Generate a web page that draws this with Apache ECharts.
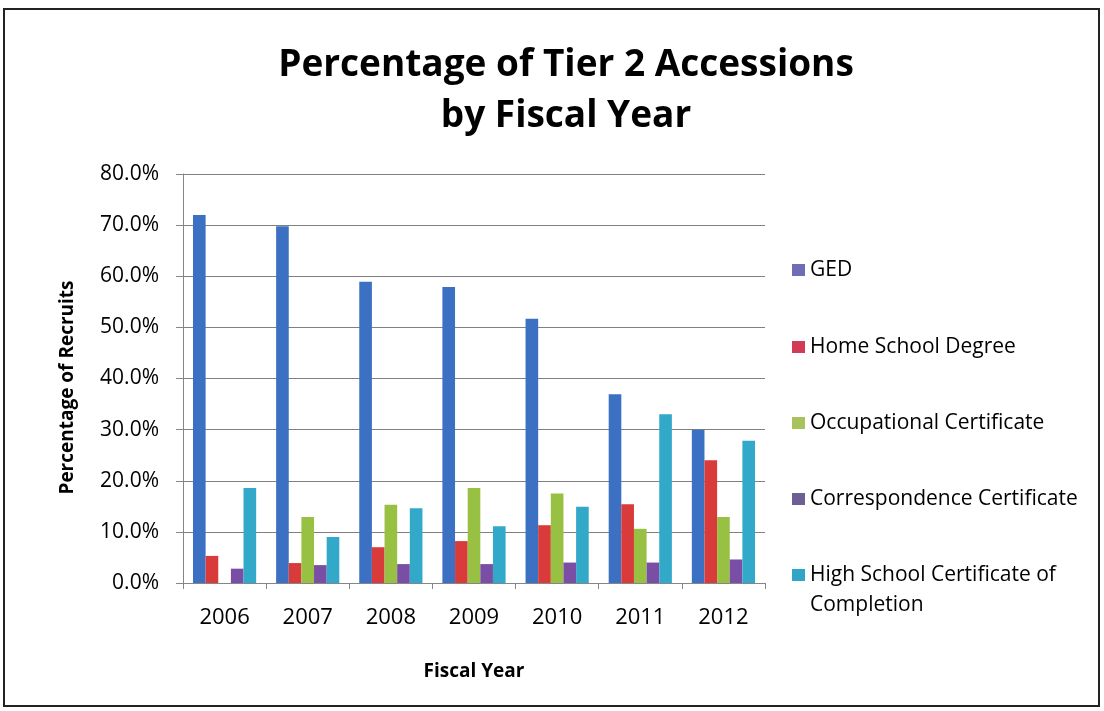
<!DOCTYPE html>
<html>
<head>
<meta charset="utf-8">
<script src="https://cdn.jsdelivr.net/npm/echarts@6/dist/echarts.min.js"></script>
<style>
  html, body { margin: 0; padding: 0; background: #ffffff; }
  #chart { width: 1104px; height: 711px; }
</style>
</head>
<body>
<div id="chart"></div>
<script>
// Fiscal years on the category axis
const years = ['2006', '2007', '2008', '2009', '2010', '2011', '2012'];

// Share of Tier 2 accessions (percent) by credential type
const gedValues            = [72.0, 69.8, 58.9, 57.9, 51.7, 36.9, 30.0];
const homeSchoolValues     = [5.3, 3.9, 7.0, 8.2, 11.3, 15.4, 24.0];
const occupationalValues   = [0.0, 12.9, 15.3, 18.6, 17.5, 10.6, 12.9];
const correspondenceValues = [2.8, 3.5, 3.7, 3.7, 4.0, 4.0, 4.6];
const hsCompletionValues   = [18.6, 9.0, 14.6, 11.1, 14.9, 33.0, 27.8];

// Series names as shown in the legend
const seriesNames = [
  'GED',
  'Home School Degree',
  'Occupational Certificate',
  'Correspondence Certificate',
  'High School Certificate of Completion'
];

// Y axis range and step (percent)
const yMin = 0;
const yMax = 80;
const yStep = 10;

const seriesValues = [gedValues, homeSchoolValues, occupationalValues, correspondenceValues, hsCompletionValues];
const barColors = ['#3b70c2', '#d93b3b', '#98c144', '#7a4ea5', '#33a9c9'];
const swatchColors = ['#6f6db5', '#d23a55', '#a8c25e', '#6d5f94', '#2fa6c6'];

const FONT = '"Open Sans", "DejaVu Sans", sans-serif';

// Legend entries: one block per series, stacked on the right.
// The long name wraps; an empty leading line keeps its first line level with the swatch.
const LEGEND_LH = 30;
const legendCenters = [270, 347, 423, 499, 575];

function legendFor(i) {
  const wrapped = i === 4;
  const halfBox = wrapped ? LEGEND_LH * 1.5 : LEGEND_LH / 2;
  return {
    orient: 'vertical',
    left: 792,
    top: legendCenters[i] - halfBox,
    padding: 0,
    itemWidth: 13,
    itemHeight: 12,
    icon: 'rect',
    selectedMode: false,
    textStyle: {
      fontFamily: FONT,
      fontSize: 21,
      color: '#000000',
      lineHeight: LEGEND_LH
    },
    formatter: function (name) {
      return name === seriesNames[4] ? '\nHigh School Certificate of\nCompletion' : name;
    },
    data: [{ name: seriesNames[i], itemStyle: { color: swatchColors[i] } }]
  };
}

const chart = echarts.init(document.getElementById('chart'), null, { renderer: 'canvas' });

chart.setOption({
  backgroundColor: '#ffffff',
  animation: false,
  color: barColors,
  title: {
    text: 'Percentage of Tier 2 Accessions\nby Fiscal Year',
    left: 561,
    top: 35,
    textAlign: 'center',
    textStyle: {
      fontFamily: FONT,
      fontWeight: 'bold',
      fontSize: 37,
      lineHeight: 51,
      color: '#000000'
    }
  },
  legend: seriesNames.map(function (n, i) { return legendFor(i); }),
  graphic: [{
    type: 'rect',
    shape: { x: 4, y: 9, width: 1095, height: 697 },
    style: { fill: 'none', stroke: '#222222', lineWidth: 2 },
    silent: true,
    z: 100
  }],
  grid: {
    left: 183,
    right: 339,
    top: 174,
    bottom: 128,
    containLabel: false
  },
  xAxis: {
    type: 'category',
    data: years,
    name: 'Fiscal Year',
    nameLocation: 'middle',
    nameGap: 79,
    nameTextStyle: {
      fontFamily: FONT,
      fontWeight: 'bold',
      fontSize: 19,
      color: '#000000'
    },
    axisLine: { lineStyle: { color: '#868686', width: 1 } },
    axisTick: { show: true, length: 6, lineStyle: { color: '#868686' } },
    axisLabel: {
      fontFamily: FONT,
      fontSize: 22,
      color: '#000000',
      margin: 24
    },
    splitLine: { show: false }
  },
  yAxis: {
    type: 'value',
    min: yMin,
    max: yMax,
    interval: yStep,
    name: 'Percentage of Recruits',
    nameLocation: 'middle',
    nameGap: 106,
    nameTextStyle: {
      fontFamily: FONT,
      fontWeight: 'bold',
      fontSize: 19,
      color: '#000000',
      padding: [0, 18, 0, 0]
    },
    axisLine: { show: true, lineStyle: { color: '#868686', width: 1 } },
    axisTick: { show: true, length: 7, lineStyle: { color: '#868686' } },
    axisLabel: {
      fontFamily: FONT,
      fontSize: 21,
      color: '#000000',
      margin: 24,
      formatter: function (v) { return v.toFixed(1) + '%'; }
    },
    splitLine: { show: true, lineStyle: { color: '#808080', width: 1 } }
  },
  series: seriesNames.map(function (n, i) {
    return {
      name: n,
      type: 'bar',
      data: seriesValues[i],
      barGap: '0%',
      barCategoryGap: '24%',
      itemStyle: { color: barColors[i] }
    };
  })
});
</script>
</body>
</html>
